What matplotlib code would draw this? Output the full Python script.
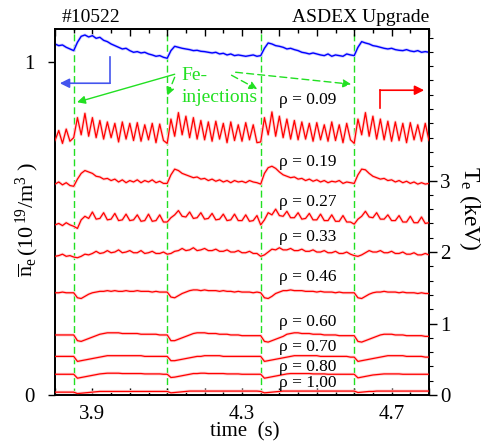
import numpy as np
import matplotlib
matplotlib.use("Agg")
import matplotlib.pyplot as plt
from matplotlib.ticker import MultipleLocator, FixedLocator, FuncFormatter

# -----------------------------
# Fonts
# -----------------------------
plt.rcParams["font.family"] = ["Liberation Serif", "DejaVu Serif"]
plt.rcParams["mathtext.fontset"] = "custom"
plt.rcParams["mathtext.rm"] = "Liberation Serif"
plt.rcParams["mathtext.it"] = "Liberation Serif:italic"

# -----------------------------
# Data
# time grid 3.80 ... 4.80 s, one value every 10 ms
# -----------------------------
time = np.linspace(3.80, 4.80, 101)

fe_injections = [3.85, 4.10, 4.35, 4.60]

# line-averaged density (10^19 m^-3), left axis
ne_bar = [
    1.055, 1.05, 1.052, 1.045, 1.04, 1.035, 1.06, 1.078, 1.082, 1.076,
    1.08, 1.072, 1.075, 1.066, 1.062, 1.055, 1.05, 1.045, 1.04, 1.042,
    1.035, 1.03, 1.032, 1.028, 1.03, 1.025, 1.022, 1.018, 1.02, 1.015,
    1.012, 1.035, 1.048, 1.045, 1.042, 1.04, 1.038, 1.035, 1.036, 1.033,
    1.032, 1.03, 1.028, 1.03, 1.025, 1.027, 1.022, 1.025, 1.02, 1.022,
    1.02, 1.018, 1.02, 1.022, 1.018, 1.02, 1.042, 1.058, 1.055, 1.05,
    1.048, 1.045, 1.04, 1.042, 1.038, 1.035, 1.03, 1.028, 1.025, 1.028,
    1.025, 1.022, 1.02, 1.025, 1.018, 1.022, 1.02, 1.018, 1.025, 1.022,
    1.02, 1.045, 1.062, 1.058, 1.055, 1.05, 1.048, 1.045, 1.042, 1.04,
    1.042, 1.038, 1.036, 1.035, 1.038, 1.034, 1.032, 1.035, 1.03, 1.032, 1.03,
]

# electron temperature (keV), right axis
te_009 = [
    3.56, 3.7, 3.52, 3.72, 3.55, 3.6, 3.88, 3.64, 3.94, 3.62,
    3.88, 3.6, 3.84, 3.58, 3.82, 3.6, 3.8, 3.54, 3.82, 3.58,
    3.8, 3.56, 3.81, 3.55, 3.78, 3.57, 3.8, 3.53, 3.79, 3.56,
    3.52, 3.86, 3.62, 3.95, 3.64, 3.9, 3.6, 3.88, 3.58, 3.84,
    3.57, 3.82, 3.55, 3.83, 3.58, 3.8, 3.53, 3.82, 3.56, 3.78,
    3.55, 3.81, 3.57, 3.78, 3.53, 3.54, 3.88, 3.64, 3.96, 3.62,
    3.9, 3.6, 3.86, 3.58, 3.84, 3.57, 3.82, 3.58, 3.8, 3.55,
    3.81, 3.57, 3.78, 3.55, 3.82, 3.56, 3.78, 3.53, 3.8, 3.57,
    3.52, 3.86, 3.64, 3.95, 3.62, 3.9, 3.58, 3.86, 3.57, 3.83,
    3.55, 3.82, 3.56, 3.8, 3.53, 3.81, 3.57, 3.78, 3.55, 3.8, 3.56,
]
te_019 = [
    2.95, 2.98, 2.94, 2.97, 2.93, 2.92, 3.02, 3.1, 3.14, 3.12,
    3.1, 3.06, 3.05, 3.02, 3.03, 3.0, 3.02, 2.98, 3.01, 2.97,
    3.0, 2.98, 3.01, 2.97, 3.0, 2.98, 3.01, 2.97, 2.99, 2.96,
    2.96, 3.08, 3.16, 3.14, 3.1, 3.08, 3.06, 3.04, 3.05, 3.02,
    3.03, 3.0, 3.02, 2.99, 3.01, 2.98, 3.0, 2.97, 3.0, 2.98,
    2.99, 2.97, 3.0, 2.98, 2.97, 2.95, 3.1, 3.18, 3.2, 3.17,
    3.12, 3.08, 3.06, 3.04, 3.05, 3.02, 3.03, 3.0, 3.02, 2.99,
    3.01, 2.98, 3.0, 2.97, 2.99, 2.98, 3.0, 2.96, 2.98, 2.97,
    2.96, 3.08, 3.16, 3.15, 3.1, 3.06, 3.04, 3.02, 3.03, 3.0,
    3.01, 2.98, 3.0, 2.97, 2.99, 2.96, 2.98, 2.95, 2.97, 2.95, 2.96,
]
te_027 = [
    2.38, 2.4, 2.37, 2.41, 2.38, 2.36, 2.33, 2.45, 2.5, 2.47,
    2.56, 2.46, 2.47, 2.55, 2.45, 2.46, 2.54, 2.44, 2.45, 2.53,
    2.44, 2.45, 2.52, 2.43, 2.44, 2.53, 2.43, 2.44, 2.52, 2.42,
    2.42, 2.48, 2.52, 2.58, 2.5, 2.49, 2.56, 2.47, 2.48, 2.55,
    2.46, 2.47, 2.54, 2.45, 2.46, 2.53, 2.44, 2.45, 2.53, 2.44,
    2.44, 2.52, 2.43, 2.44, 2.51, 2.38, 2.45, 2.55, 2.52, 2.6,
    2.51, 2.5, 2.57, 2.48, 2.48, 2.55, 2.46, 2.47, 2.54, 2.45,
    2.45, 2.53, 2.44, 2.44, 2.52, 2.43, 2.43, 2.51, 2.42, 2.42,
    2.39, 2.46, 2.5, 2.57, 2.49, 2.48, 2.55, 2.46, 2.46, 2.52,
    2.44, 2.44, 2.51, 2.42, 2.42, 2.5, 2.41, 2.41, 2.49, 2.4, 2.41,
]
te_033 = [
    1.94, 1.95, 1.97, 1.94, 1.95, 1.93, 1.92, 1.94, 1.97, 1.96,
    1.98, 2.01, 1.98, 1.99, 2.02, 1.99, 2.0, 2.03, 1.99, 2.0,
    2.02, 1.99, 1.99, 2.02, 1.98, 1.99, 2.01, 1.98, 1.98, 2.0,
    1.97, 1.98, 2.01, 2.02, 2.05, 2.02, 2.03, 2.06, 2.02, 2.03,
    2.05, 2.02, 2.02, 2.04, 2.01, 2.01, 2.03, 2.0, 2.0, 2.02,
    1.99, 1.99, 2.01, 1.98, 1.98, 1.94, 1.96, 2.0, 2.04, 2.03,
    2.06, 2.03, 2.03, 2.05, 2.02, 2.02, 2.04, 2.01, 2.01, 2.03,
    2.0, 2.0, 2.02, 1.99, 1.99, 2.01, 1.98, 1.98, 2.0, 1.97,
    1.95, 1.94, 1.96, 1.99, 2.02, 2.0, 2.0, 2.02, 1.99, 1.99,
    2.01, 1.98, 1.98, 2.0, 1.97, 1.97, 1.99, 1.96, 1.96, 1.98, 1.96,
]
te_046 = [
    1.43, 1.43, 1.44, 1.43, 1.43, 1.43, 1.36, 1.35, 1.38, 1.41,
    1.43, 1.44, 1.45, 1.45, 1.46, 1.45, 1.46, 1.45, 1.45, 1.46,
    1.45, 1.45, 1.46, 1.45, 1.45, 1.45, 1.44, 1.45, 1.44, 1.44,
    1.44, 1.37, 1.36, 1.39, 1.42, 1.44, 1.46, 1.47, 1.47, 1.46,
    1.47, 1.46, 1.46, 1.46, 1.45, 1.46, 1.45, 1.45, 1.44, 1.45,
    1.44, 1.44, 1.44, 1.43, 1.44, 1.43, 1.36, 1.35, 1.38, 1.42,
    1.44, 1.46, 1.46, 1.47, 1.46, 1.46, 1.46, 1.45, 1.45, 1.45,
    1.44, 1.45, 1.44, 1.44, 1.44, 1.43, 1.44, 1.43, 1.43, 1.43,
    1.43, 1.36, 1.35, 1.38, 1.41, 1.43, 1.44, 1.44, 1.45, 1.44,
    1.44, 1.44, 1.43, 1.44, 1.43, 1.43, 1.43, 1.42, 1.43, 1.42, 1.42,
]
te_060 = [
    0.84, 0.84, 0.84, 0.84, 0.84, 0.84, 0.76, 0.75, 0.77, 0.79,
    0.81, 0.83, 0.85, 0.86, 0.87, 0.87, 0.87, 0.87, 0.86, 0.86,
    0.86, 0.86, 0.86, 0.85, 0.85, 0.85, 0.85, 0.85, 0.84, 0.84,
    0.84, 0.76, 0.76, 0.78, 0.8, 0.82, 0.84, 0.86, 0.87, 0.87,
    0.87, 0.86, 0.86, 0.86, 0.85, 0.85, 0.85, 0.84, 0.84, 0.84,
    0.83, 0.83, 0.83, 0.83, 0.83, 0.83, 0.75, 0.74, 0.76, 0.78,
    0.8, 0.82, 0.85, 0.86, 0.87, 0.87, 0.86, 0.86, 0.86, 0.85,
    0.85, 0.85, 0.84, 0.84, 0.84, 0.84, 0.83, 0.83, 0.83, 0.83,
    0.83, 0.75, 0.74, 0.76, 0.78, 0.8, 0.82, 0.84, 0.85, 0.85,
    0.85, 0.84, 0.84, 0.84, 0.83, 0.83, 0.83, 0.83, 0.83, 0.82, 0.82,
]
te_070 = [
    0.54, 0.54, 0.54, 0.54, 0.54, 0.54, 0.47, 0.48, 0.49, 0.5,
    0.51, 0.52, 0.53, 0.54, 0.55, 0.55, 0.55, 0.55, 0.55, 0.55,
    0.55, 0.55, 0.55, 0.55, 0.54, 0.54, 0.54, 0.54, 0.54, 0.54,
    0.54, 0.48, 0.48, 0.49, 0.5, 0.51, 0.52, 0.53, 0.54, 0.54,
    0.55, 0.55, 0.55, 0.55, 0.55, 0.54, 0.54, 0.54, 0.54, 0.54,
    0.54, 0.54, 0.54, 0.54, 0.54, 0.54, 0.47, 0.48, 0.49, 0.5,
    0.51, 0.52, 0.53, 0.54, 0.55, 0.55, 0.55, 0.55, 0.55, 0.55,
    0.55, 0.54, 0.54, 0.54, 0.54, 0.54, 0.54, 0.54, 0.54, 0.53,
    0.53, 0.47, 0.48, 0.49, 0.5, 0.51, 0.52, 0.53, 0.54, 0.55,
    0.55, 0.55, 0.55, 0.55, 0.54, 0.54, 0.54, 0.54, 0.54, 0.53, 0.53,
]
te_080 = [
    0.29, 0.29, 0.29, 0.29, 0.29, 0.29, 0.235, 0.245, 0.255, 0.265,
    0.275, 0.285, 0.295, 0.3, 0.305, 0.305, 0.305, 0.305, 0.3, 0.3,
    0.3, 0.3, 0.3, 0.3, 0.295, 0.295, 0.295, 0.295, 0.295, 0.29,
    0.29, 0.245, 0.25, 0.26, 0.27, 0.28, 0.29, 0.3, 0.3, 0.305,
    0.305, 0.3, 0.3, 0.3, 0.3, 0.3, 0.295, 0.295, 0.295, 0.295,
    0.29, 0.29, 0.29, 0.29, 0.29, 0.29, 0.235, 0.245, 0.255, 0.265,
    0.275, 0.285, 0.295, 0.3, 0.3, 0.3, 0.3, 0.3, 0.3, 0.295,
    0.295, 0.295, 0.295, 0.29, 0.29, 0.29, 0.29, 0.29, 0.29, 0.29,
    0.29, 0.24, 0.25, 0.26, 0.27, 0.28, 0.285, 0.29, 0.295, 0.295,
    0.295, 0.295, 0.295, 0.29, 0.29, 0.29, 0.29, 0.29, 0.29, 0.29, 0.29,
]
te_100 = [
    0.04, 0.04, 0.04, 0.04, 0.04, 0.04, 0.02, 0.025, 0.03, 0.035,
    0.04, 0.045, 0.05, 0.05, 0.05, 0.05, 0.05, 0.05, 0.05, 0.05,
    0.05, 0.05, 0.05, 0.05, 0.05, 0.05, 0.05, 0.05, 0.05, 0.05,
    0.05, 0.03, 0.035, 0.04, 0.045, 0.05, 0.055, 0.055, 0.055, 0.055,
    0.055, 0.055, 0.055, 0.055, 0.055, 0.055, 0.055, 0.055, 0.055, 0.055,
    0.055, 0.055, 0.055, 0.055, 0.055, 0.05, 0.03, 0.035, 0.04, 0.045,
    0.05, 0.055, 0.055, 0.055, 0.055, 0.055, 0.055, 0.055, 0.055, 0.055,
    0.055, 0.055, 0.055, 0.055, 0.055, 0.055, 0.055, 0.055, 0.055, 0.055,
    0.055, 0.035, 0.04, 0.045, 0.05, 0.05, 0.055, 0.055, 0.055, 0.055,
    0.055, 0.055, 0.055, 0.055, 0.055, 0.055, 0.055, 0.055, 0.055, 0.055, 0.055,
]

te_traces = [te_009, te_019, te_027, te_033, te_046,
             te_060, te_070, te_080, te_100]
rho_labels = ["0.09", "0.19", "0.27", "0.33", "0.46",
              "0.60", "0.70", "0.80", "1.00"]
# label heights (keV)
rho_label_y = [4.13, 3.26, 2.70, 2.21, 1.65, 1.02, 0.67, 0.39, 0.17]

x_ticklabels = [3.9, 4.3, 4.7]
ne_ticks = [0, 1]
te_ticks = [0, 1, 2, 3]

# -----------------------------
# Colors
# -----------------------------
RED = "#ff0000"
RED_HALO = "#ffd2d2"
BLUE = "#0000ff"
BLUE_HALO = "#d0d0ff"
GREEN = "#22e022"

# -----------------------------
# Figure
# -----------------------------
W, H = 489, 445
fig = plt.figure(figsize=(W / 100, H / 100), dpi=100)

left, right, top, bottom = 55, 429, 29, 395
ax = fig.add_axes([
    left / W,
    1 - bottom / H,
    (right - left) / W,
    (bottom - top) / H
])
ax2 = ax.twinx()

ax.set_xlim(3.80, 4.80)
ax.set_ylim(0, 1.10)
ax2.set_ylim(0, 5.12)

# green injection markers
for t_inj in fe_injections:
    ax.axvline(t_inj, color=GREEN, lw=1.0, ls=(0, (5, 2.5)), zorder=1)

# density trace
ax.plot(time, ne_bar, color=BLUE_HALO, lw=2.2, zorder=2)
ax.plot(time, ne_bar, color=BLUE, lw=1.0, zorder=3)

# temperature traces
for te in te_traces:
    ax2.plot(time, te, color=RED_HALO, lw=2.2, zorder=2)
    ax2.plot(time, te, color=RED, lw=0.9, zorder=3)

for lab, y in zip(rho_labels, rho_label_y):
    ax2.text(4.40, y, f"ρ = {lab}", fontsize=12.5,
             ha="left", va="center", zorder=4)

# -----------------------------
# Ticks
# -----------------------------
ax.xaxis.set_major_locator(MultipleLocator(0.1))
ax.xaxis.set_minor_locator(MultipleLocator(0.05))
ax.xaxis.set_major_formatter(FuncFormatter(
    lambda v, p: next((f"{k:.1f}" for k in x_ticklabels
                       if abs(v - k) < 1e-6), "")
))
ax.tick_params(axis="x", which="both", direction="in",
               top=True, bottom=True, labelsize=15, pad=7)
ax.tick_params(axis="x", which="major", length=5, width=1)
ax.tick_params(axis="x", which="minor", length=3, width=1)

ax.yaxis.set_major_locator(FixedLocator(ne_ticks))
ax.tick_params(axis="y", which="major", direction="out", length=5,
               width=1, labelsize=15, pad=10, right=False)

ax2.yaxis.set_major_locator(FixedLocator(te_ticks))
ax2.yaxis.set_minor_locator(MultipleLocator(0.2))
ax2.tick_params(axis="y", which="major", direction="out", length=6,
                width=1, labelsize=15, pad=2)
ax2.tick_params(axis="y", which="minor", direction="out", length=3,
                width=0.8)

for a in (ax, ax2):
    for s in a.spines.values():
        s.set_linewidth(1.3)

# -----------------------------
# Annotations
# -----------------------------
fig.text(62 / W, 1 - 17 / H, "#10522", fontsize=14,
         ha="left", va="center")
fig.text(429 / W, 1 - 17 / H, "ASDEX Upgrade", fontsize=14,
         ha="right", va="center")

ax.text(4.139, 0.961, "Fe-", color=GREEN, fontsize=14,
        ha="left", va="center")
ax.text(4.139, 0.895, "injections", color=GREEN, fontsize=14,
        ha="left", va="center")

arrow_kw = dict(arrowstyle="-|>", color=GREEN, lw=1.0,
                mutation_scale=12, shrinkA=0, shrinkB=0)
ax.annotate("", xy=(3.859, 0.88), xytext=(4.12, 0.964),
            arrowprops=arrow_kw)
dashed_kw = dict(arrow_kw, linestyle=(0, (5, 3)))
ax.annotate("", xy=(4.10, 0.90), xytext=(4.12, 0.955),
            arrowprops=dashed_kw)
ax.annotate("", xy=(4.341, 0.919), xytext=(4.272, 0.961),
            arrowprops=dashed_kw)
ax.annotate("", xy=(4.592, 0.934), xytext=(4.283, 0.97),
            arrowprops=dashed_kw)

# axis pointers: blue -> left axis, red -> right axis
ax.plot([3.947, 3.947], [1.015, 0.937], color="#4455ee", lw=1.2)
ax.annotate("", xy=(3.813, 0.937), xytext=(3.947, 0.937),
            arrowprops=dict(arrowstyle="-|>", color="#4455ee", lw=1.2,
                            mutation_scale=14, shrinkA=0, shrinkB=0))
ax.plot([4.669, 4.669], [0.862, 0.916], color=RED, lw=1.2)
ax.annotate("", xy=(4.787, 0.916), xytext=(4.669, 0.916),
            arrowprops=dict(arrowstyle="-|>", color=RED, lw=1.2,
                            mutation_scale=14, shrinkA=0, shrinkB=0))

# axis labels
fig.text(245 / W, 1 - 432 / H, "time  (s)", fontsize=15,
         ha="center", va="center")
fig.text(27 / W, 1 - 220 / H,
         r"$\overline{\rm n}_{\rm e}\,(10^{\,19}/{\rm m}^{3}\ )$",
         fontsize=16, rotation=90, ha="center", va="center")
fig.text(470 / W, 1 - 208 / H, r"T$_{\rm e}$ (keV)", fontsize=17,
         rotation=270, ha="center", va="center")

fig.savefig("out.png", dpi=100)
